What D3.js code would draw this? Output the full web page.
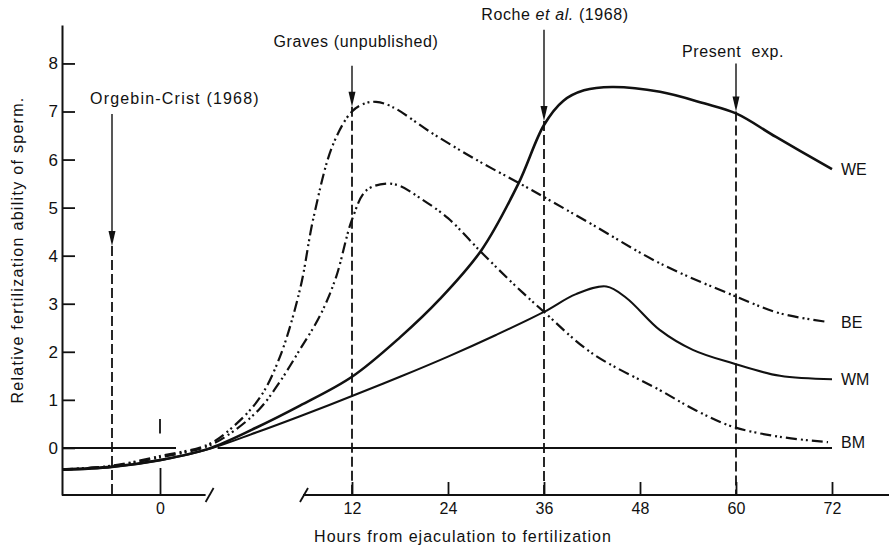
<!DOCTYPE html>
<html lang="en">
<head>
<meta charset="utf-8">
<title>Relative fertilization ability of sperm</title>
<script src="https://d3js.org/d3.v7.min.js"></script>
<style>
  body { margin: 0; background: #fff; }
  svg { display: block; font-family: "Liberation Sans", Arial, sans-serif; }
</style>
</head>
<body>
<svg id="chart" width="889" height="549"></svg>
<script>
// [hours from ejaculation, relative fertilization ability]
const weData = [[-12.25,-0.45],[-6,-0.39],[0,-0.25],[3,-0.02],[6,0.42],[8.75,0.88],[12,1.48],[18,2.3],[23,3.1],[28.2,4.12],[32.8,5.5],[36,6.72],[38.4,7.22],[41,7.44],[44.5,7.51],[50.5,7.41],[56,7.17],[60,6.96],[65,6.47],[72,5.8]];
const beData = [[-12.25,-0.45],[-6,-0.37],[0,-0.17],[3,0.07],[4.6,0.45],[6.25,1.05],[7.5,1.9],[8.75,3.3],[9.6,4.8],[10.8,6.3],[12,7.0],[13.8,7.18],[15,7.2],[17,7.1],[22,6.55],[27.6,5.99],[33,5.5],[36,5.22],[42,4.65],[50.5,3.84],[60,3.15],[65.5,2.8],[71.5,2.62]];
const wmData = [[-12.25,-0.46],[-6,-0.4],[0,-0.26],[3,-0.03],[6,0.32],[8.75,0.66],[12,1.08],[18,1.48],[24,1.9],[30,2.35],[36,2.83],[40,3.2],[43.8,3.36],[46.3,3.12],[50.5,2.45],[54.6,2.04],[59.6,1.76],[65.5,1.5],[72,1.43]];
const bmData = [[-12.25,-0.45],[-6,-0.38],[0,-0.2],[3,0.04],[4.6,0.35],[6.25,0.82],[7.5,1.38],[8.75,2.05],[10,2.75],[11,3.55],[12,4.75],[13.8,5.36],[16.3,5.5],[18,5.45],[20.5,5.2],[24,4.78],[28,4.1],[32,3.44],[36,2.83],[42,1.97],[50.5,1.2],[55,0.78],[59.6,0.44],[65.5,0.23],[71.5,0.12]];
const seriesNames = ["WE", "BE", "WM", "BM"];

const xTicks = [0, 12, 24, 36, 48, 60, 72];
const yTicks = [0, 1, 2, 3, 4, 5, 6, 7, 8];

// reference experiments: hour, label, arrow start and arrow tip (y units)
const refHours = [-6, 12, 36, 60];
const refLabels = ["Orgebin-Crist (1968)", "Graves (unpublished)", "Roche et al. (1968)", "Present  exp."];
const arrowTop = [6.95, 7.95, 8.7, 8.0];
const arrowTip = [4.2, 7.1, 6.8, 7.0];

const svg = d3.select("#chart");
const ink = "#111";

// broken time axis: 0..12 h is stretched in the original
const x = d3.scaleLinear().domain([-12.25, 0, 12, 72]).range([62, 160, 352, 832]);
const y = d3.scaleLinear().domain([-0.98, 8.8]).range([495, 25]);

// y axis
const yAxis = d3.axisLeft(y).tickValues(yTicks).tickSize(-13).tickSizeOuter(0).tickPadding(4);
const gy = svg.append("g").attr("transform", `translate(${x(-12.25)},0)`).call(yAxis);
gy.select(".domain").attr("stroke", ink).attr("stroke-width", 2);
gy.selectAll(".tick line").attr("stroke", ink).attr("stroke-width", 1.8);
gy.selectAll(".tick text").attr("font-size", 17).attr("fill", ink);

// x axis ticks and labels
const xAxis = d3.axisBottom(x).tickValues(xTicks).tickSize(-13).tickPadding(8);
const gx = svg.append("g").attr("transform", `translate(0,${y(-0.98)})`).call(xAxis);
gx.select(".domain").remove();
gx.selectAll(".tick line").attr("stroke", ink).attr("stroke-width", 1.8)
  .attr("y2", d => d === 0 ? -27 : -13);
gx.selectAll(".tick text").attr("font-size", 16).attr("fill", ink);

// x axis line in two pieces with break marks
const breakLeft = 2.85, breakRight = 8.75;
const axisY = y(-0.98);
svg.append("line").attr("x1", x(-12.25)).attr("x2", x(breakLeft)).attr("y1", axisY).attr("y2", axisY)
  .attr("stroke", ink).attr("stroke-width", 2);
svg.append("line").attr("x1", x(breakRight) + 3).attr("x2", 889).attr("y1", axisY).attr("y2", axisY)
  .attr("stroke", ink).attr("stroke-width", 2);
[breakLeft, breakRight].forEach(function(b) {
  svg.append("line").attr("x1", x(b)).attr("y1", axisY + 7).attr("x2", x(b) + 8).attr("y2", axisY - 7)
    .attr("stroke", ink).attr("stroke-width", 1.8);
});

// zero line, broken like the axis
[[-12.25, 1], [3.6, 72]].forEach(function(seg) {
  svg.append("line").attr("x1", x(seg[0])).attr("x2", x(seg[1])).attr("y1", y(0)).attr("y2", y(0))
    .attr("stroke", ink).attr("stroke-width", 2);
});
svg.append("line").attr("x1", x(0)).attr("x2", x(0)).attr("y1", y(0.3)).attr("y2", y(0.6))
  .attr("stroke", ink).attr("stroke-width", 1.8);

// reference lines with arrows
refHours.forEach(function(h, i) {
  const px = x(h);
  svg.append("line").attr("x1", px).attr("x2", px).attr("y1", y(arrowTip[i])).attr("y2", axisY)
    .attr("stroke", ink).attr("stroke-width", 1.8).attr("stroke-dasharray", "10,4");
  svg.append("line").attr("x1", px).attr("x2", px).attr("y1", y(arrowTop[i])).attr("y2", y(arrowTip[i]) - 12)
    .attr("stroke", ink).attr("stroke-width", 1.4);
  const tip = y(arrowTip[i]);
  svg.append("path").attr("d", `M${px - 3.5},${tip - 15}L${px + 3.5},${tip - 15}L${px},${tip}Z`).attr("fill", ink);
});

// labels above the arrows
const labelDx = [-22, 4, 11, -3];
const labelAnchor = ["start", "middle", "middle", "middle"];
const labelBase = [104, 47, 20, 57];
refLabels.forEach(function(lab, i) {
  const t = svg.append("text").attr("x", x(refHours[i]) + labelDx[i]).attr("y", labelBase[i])
    .attr("text-anchor", labelAnchor[i]).attr("font-size", 16).attr("letter-spacing", i === 0 ? 1.2 : 0.6)
    .attr("fill", ink).style("white-space", "pre");
  if (lab.indexOf("et al.") >= 0) {
    const parts = lab.split("et al.");
    t.append("tspan").text(parts[0]);
    t.append("tspan").attr("font-style", "italic").text("et al.");
    t.append("tspan").text(parts[1]);
  } else {
    t.text(lab);
  }
});

// curves
const line = d3.line().x(d => x(d[0])).y(d => y(d[1])).curve(d3.curveCatmullRom.alpha(0.5));
const allData = [weData, beData, wmData, bmData];
const dashes = [null, "11,4,2,3,2,4", null, "11,4,2,3,2,4"];
const widths = [2.6, 2.2, 2.1, 2.2];
allData.forEach(function(data, i) {
  svg.append("path").datum(data).attr("d", line).attr("fill", "none")
    .attr("stroke", ink).attr("stroke-width", widths[i])
    .attr("stroke-dasharray", dashes[i]);
  const last = data[data.length - 1];
  svg.append("text").attr("x", x(72) + 9).attr("y", y(last[1])).attr("dy", "0.36em")
    .attr("font-size", 16).attr("fill", ink).text(seriesNames[i]);
});

// axis titles
svg.append("text").attr("transform", "translate(23,250) rotate(-90)").attr("text-anchor", "middle")
  .attr("font-size", 16).attr("letter-spacing", 1.3).attr("fill", ink)
  .text("Relative fertilization ability of sperm.");
svg.append("text").attr("x", 463).attr("y", 542).attr("text-anchor", "middle")
  .attr("font-size", 16).attr("letter-spacing", 1.0).attr("fill", ink)
  .text("Hours from ejaculation to fertilization");
</script>
</body>
</html>
